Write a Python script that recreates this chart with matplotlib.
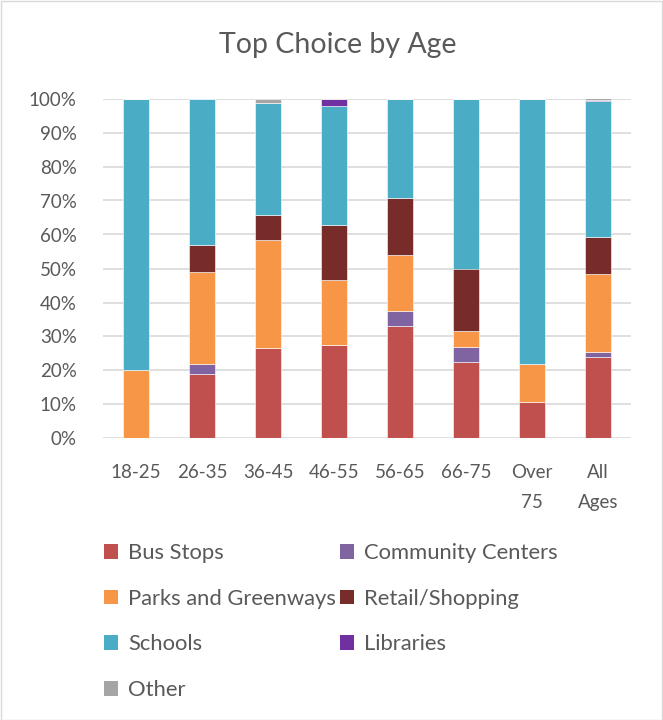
import matplotlib
matplotlib.use("Agg")
import matplotlib.pyplot as plt
from matplotlib.patches import Rectangle, Patch
import numpy as np

plt.rcParams['font.family'] = ['Lato', 'DejaVu Sans']

categories = ["18-25", "26-35", "36-45", "46-55", "56-65", "66-75", "Over\n75", "All\nAges"]
bus_stops = [0.0, 19.0, 26.7, 27.5, 33.1, 22.5, 10.8, 24.0]
community_centers = [0.0, 3.0, 0.0, 0.0, 4.4, 4.5, 0.0, 1.5]
parks = [20.0, 27.0, 31.6, 19.1, 16.6, 4.6, 11.2, 22.9]
retail = [0.0, 8.0, 7.5, 16.1, 16.6, 18.4, 0.0, 10.8]
schools = [80.0, 43.0, 32.9, 35.1, 29.3, 50.0, 78.0, 40.1]
libraries = [0.0, 0.0, 0.0, 2.2, 0.0, 0.0, 0.0, 0.3]
other = [0.0, 0.0, 1.3, 0.0, 0.0, 0.0, 0.0, 0.4]

series = [
    ("Bus Stops", bus_stops, "#C0504D"),
    ("Community Centers", community_centers, "#8064A2"),
    ("Parks and Greenways", parks, "#F79646"),
    ("Retail/Shopping", retail, "#772C2A"),
    ("Schools", schools, "#4BACC6"),
    ("Libraries", libraries, "#7030A0"),
    ("Other", other, "#A5A5A5"),
]

W, H = 663, 720
fig = plt.figure(figsize=(W / 100, H / 100), dpi=100)
ax = fig.add_axes([103 / W, 1 - 438.5 / H, 528 / W, 340 / H])

x = np.arange(len(categories))
bottom = np.zeros(len(categories))
handles = {}
for name, vals, col in series:
    vals = np.array(vals)
    ax.bar(x, vals, 0.4, bottom=bottom, color=col, edgecolor="white", linewidth=0.4, zorder=3)
    handles[name] = Patch(facecolor=col)
    bottom += vals

ax.set_xlim(-0.5, len(categories) - 0.5)
ax.set_ylim(0, 100)
ax.set_yticks(np.arange(0, 101, 10))
ax.set_yticklabels([f"{v}%" for v in range(0, 101, 10)])
ax.set_xticks(x)
ax.set_xticklabels(categories, linespacing=1.9)
ax.grid(axis="y", color="#D9D9D9", linewidth=1.2, zorder=0)
for s in ax.spines.values():
    s.set_visible(False)
ax.tick_params(axis="both", length=0, colors="#595959", labelsize=13.5)
ax.tick_params(axis="y", pad=19)
ax.tick_params(axis="x", pad=18.5)

fig.text(338 / W, 1 - 45 / H, "Top Choice by Age", ha="center", va="center", fontsize=20.5, color="#595959")

order = ["Bus Stops", "Parks and Greenways", "Schools", "Other",
         "Community Centers", "Retail/Shopping", "Libraries"]
fig.legend([handles[n] for n in order], order, ncol=2, loc="upper left",
           bbox_to_anchor=(104 / W, 1 - 543 / H), frameon=False,
           fontsize=15.8, labelcolor="#595959", handlelength=0.64, handleheight=0.64,
           handletextpad=0.45, columnspacing=0.2, labelspacing=1.17, borderaxespad=0, borderpad=0)

fig.patches.append(Rectangle((0.5 / W, 0.5 / H), 1 - 1.5 / W, 1 - 1.5 / H, transform=fig.transFigure,
                             fill=False, edgecolor="#D9D9D9", linewidth=1))

fig.savefig("out.png", dpi=100)
